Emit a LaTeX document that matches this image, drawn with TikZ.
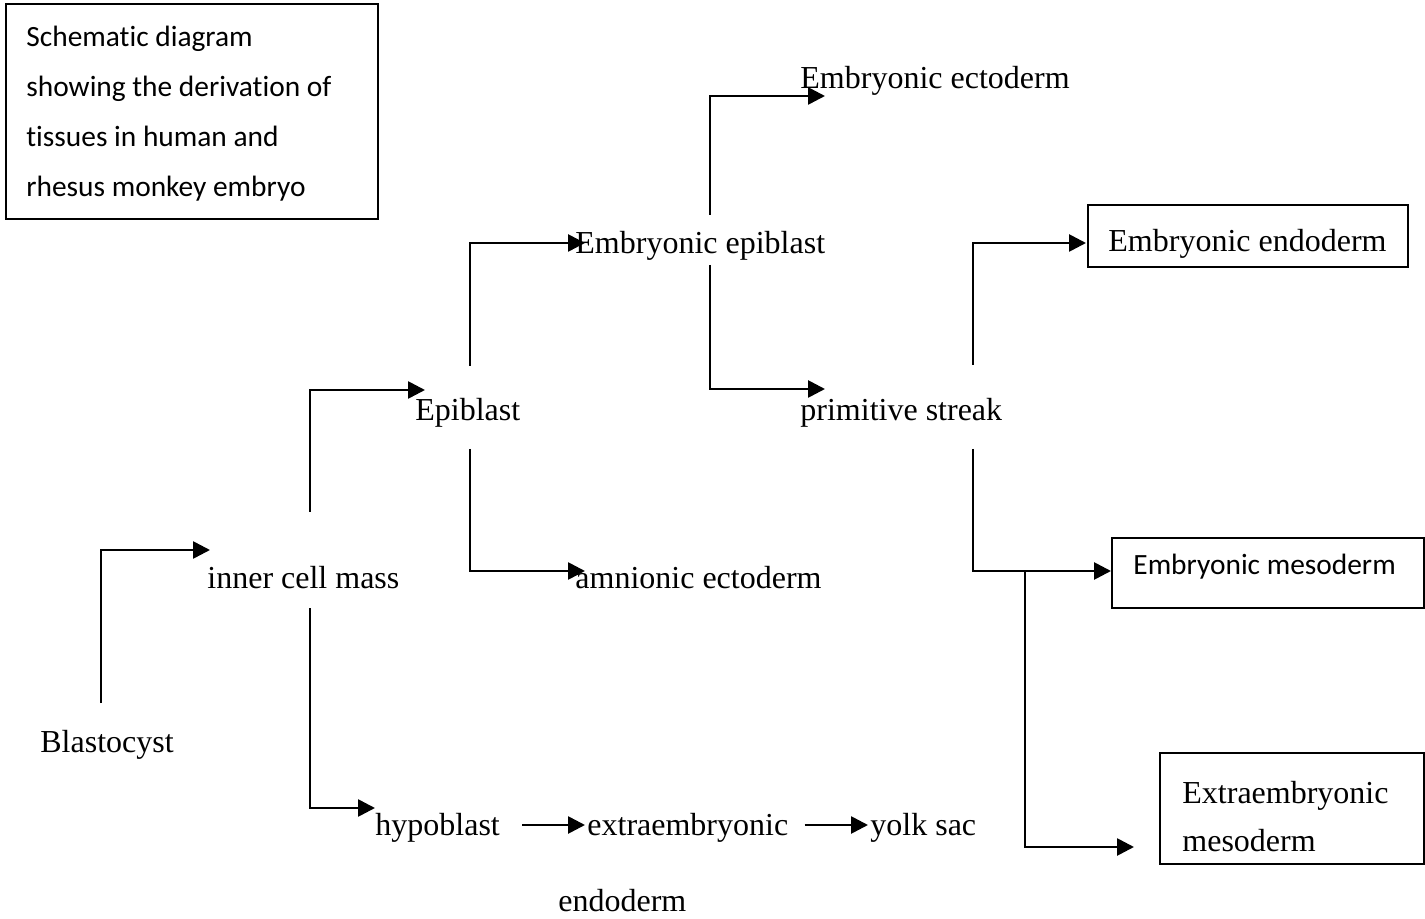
\documentclass[tikz,border=0pt]{standalone}
\usepackage{fontspec}
\setmainfont{Liberation Serif}
\newfontfamily\calib[Ligatures=NoCommon]{Carlito}
\usetikzlibrary{arrows.meta,calc}
\begin{document}
\begin{tikzpicture}[x=0.5pt,y=-0.5pt,
  lbl/.style={anchor=west,inner sep=0pt,font=\fontsize{16}{19}\selectfont},
  slbl/.style={anchor=west,inner sep=0pt,font=\calib\fontsize{14.7}{25}\selectfont},
  boxn/.style={draw,line width=1pt,inner sep=0pt},
  arr/.style={line width=1.35pt,-{Triangle[length=8.5pt,width=8.5pt]}},
  ln/.style={line width=1.2pt}]
\useasboundingbox (0,0) rectangle (1425,919);
% title box
\node[boxn,anchor=north west,minimum width=186pt,minimum height=107.5pt] (tbox) at (5,3) {};
\node[slbl,align=left,anchor=west] (title) at (26,114) {Schematic diagram\\showing the derivation of\\tissues in human and\\rhesus monkey embryo};
% text nodes
\node[lbl] (blast) at (40,745) {Blastocyst};
\node[lbl] (icm) at (207,578) {inner cell mass};
\node[lbl] (epi) at (415,413) {Epiblast};
\node[lbl] (eepi) at (575,246) {Embryonic epiblast};
\node[lbl] (amn) at (575,578) {amnionic ectoderm};
\node[lbl] (eecto) at (800,81) {Embryonic ectoderm};
\node[lbl] (prim) at (800,413) {primitive streak};
\node[lbl] (hypo) at (375,828) {hypoblast};
\node[lbl] (xendo) at (587,828) {extraembryonic};
\node[lbl] (endo2) at (558,901) {endoderm};
\node[lbl] (yolk) at (870,828) {yolk sac};
% boxes
\node[boxn,minimum width=160pt,minimum height=31pt] (eendo) at (1248,236) {};
\node[lbl] (eendot) at (1108,244) {Embryonic endoderm};
\node[boxn,minimum width=156pt,minimum height=35pt] (emeso) at (1268,573) {};
\node[slbl] (emesot) at (1133,567) {Embryonic mesoderm};
\node[boxn,minimum width=132pt,minimum height=55.5pt] (xmeso) at (1292,808.5) {};
\node[lbl,align=left,font=\fontsize{16}{24}\selectfont] (xmesot) at (1182,817) {Extraembryonic\\mesoderm};
% start coordinates
\coordinate (b0) at (101,703);
\coordinate (i1) at (310,512);
\coordinate (i2) at (310,608);
\coordinate (e1) at (470,366);
\coordinate (e2) at (470,449);
\coordinate (p1) at (710,215);
\coordinate (p2) at (710,265);
\coordinate (s1) at (973,365);
\coordinate (s2) at (973,449);
\coordinate (s3) at (1025,571);
% connectors
\draw[arr] (b0) |- ($(icm.west)+(3,-28)$);
\draw[arr] (i1) |- ($(epi.west)+(10,-23)$);
\draw[arr] (i2) |- ($(hypo.west)+(0,-20)$);
\draw[arr] (e1) |- ($(eepi.west)+(10,-3)$);
\draw[arr] (e2) |- ($(amn.west)+(10,-7)$);
\draw[arr] (p1) |- ($(eecto.west)+(25,15)$);
\draw[arr] (p2) |- ($(prim.west)+(25,-24)$);
\draw[arr] (s1) |- ($(eendo.west)+(-1,7)$);
\draw[arr] (s2) |- ($(emeso.west)+(0,-2)$);
\draw[arr] (s3) |- ($(xmeso.west)+(-25,38.5)$);
\draw[arr] ($(hypo.east)+(22,-3)$) -- ($(xendo.west)+(-2,-3)$);
\draw[arr] ($(xendo.east)+(16,-3)$) -- ($(yolk.west)+(-2,-3)$);
\end{tikzpicture}
\end{document}
